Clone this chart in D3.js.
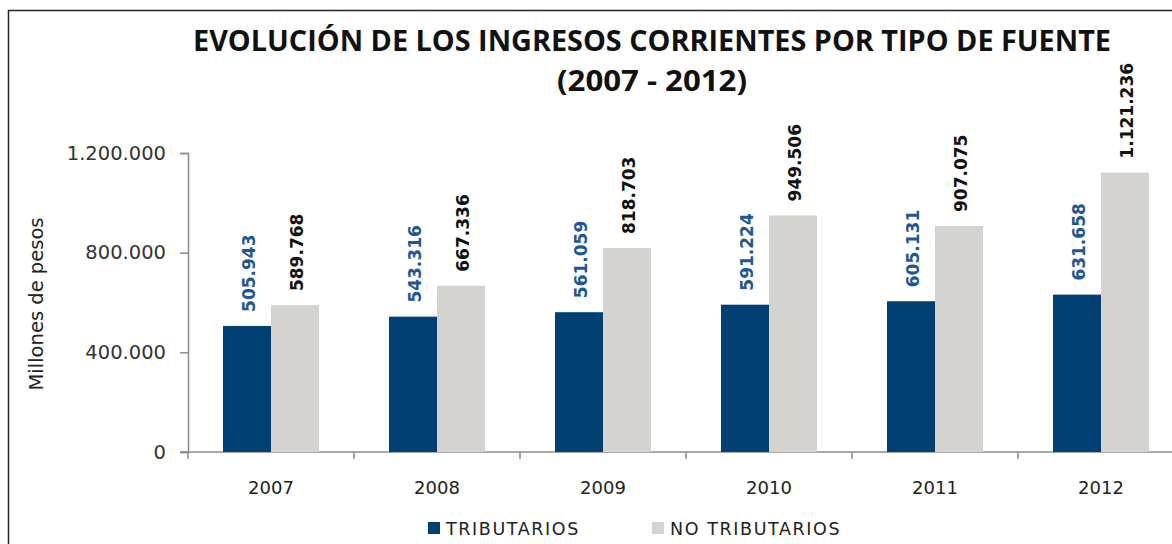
<!DOCTYPE html>
<html>
<head>
<meta charset="utf-8">
<script src="https://cdn.jsdelivr.net/npm/d3@7"></script>
<style>
  body { margin: 0; background: #fff; }
  svg { display: block; }
</style>
</head>
<body>
<div id="viz"></div>
<script>
// data
var years = ["2007", "2008", "2009", "2010", "2011", "2012"];
var tributarios = [505943, 543316, 561059, 591224, 605131, 631658];
var noTributarios = [589768, 667336, 818703, 949506, 907075, 1121236];
var yTicks = [0, 400000, 800000, 1200000];
var seriesNames = ["TRIBUTARIOS", "NO TRIBUTARIOS"];

var width = 1172, height = 544;
var blue = "#023f73", gray = "#d4d3cf";

var loc = d3.formatLocale({ decimal: ",", thousands: ".", grouping: [3], currency: ["$", ""] });
var fmt = loc.format(",d");

var svg = d3.select("#viz").append("svg")
  .attr("width", width)
  .attr("height", height);

// frame
svg.append("rect")
  .attr("x", 8.5).attr("y", 10.5)
  .attr("width", 1200).attr("height", 600)
  .attr("fill", "none").attr("stroke", "#222").attr("stroke-width", 1.5);

// title
svg.append("text")
  .attr("x", 652).attr("y", 51)
  .attr("text-anchor", "middle")
  .attr("textLength", 918).attr("lengthAdjust", "spacingAndGlyphs")
  .style("font-family", "'Open Sans', sans-serif")
  .style("font-weight", "bold").style("font-size", "29px")
  .attr("fill", "#111")
  .text("EVOLUCIÓN DE LOS INGRESOS CORRIENTES POR TIPO DE FUENTE");
svg.append("text")
  .attr("x", 652).attr("y", 91)
  .attr("text-anchor", "middle")
  .attr("textLength", 190).attr("lengthAdjust", "spacingAndGlyphs")
  .style("font-family", "'Open Sans', sans-serif")
  .style("font-weight", "bold").style("font-size", "29px")
  .attr("fill", "#111")
  .text("(2007 - 2012)");

// scales
var y = d3.scaleLinear().domain([0, 1200000]).range([452, 153]);
var x = d3.scaleBand().domain(years).range([188, 188 + 166 * 6]).paddingInner(0).paddingOuter(0);
var xs = d3.scaleBand().domain([0, 1]).range([35, 131]);

// axes
var yAxis = svg.append("g")
  .attr("transform", "translate(188,0)")
  .call(d3.axisLeft(y).tickValues(yTicks).tickSize(8).tickPadding(14).tickFormat(fmt));
yAxis.select(".domain").attr("stroke", "#8c8c8c").attr("stroke-width", 1.5);
yAxis.selectAll(".tick line").attr("stroke", "#8c8c8c").attr("stroke-width", 1.5);
yAxis.selectAll(".tick text")
  .style("font-family", "'DejaVu Sans', sans-serif")
  .style("font-size", "19.5px").attr("fill", "#333");

var xAxis = svg.append("g")
  .attr("transform", "translate(0,452)");
xAxis.append("line")
  .attr("x1", 180).attr("x2", width)
  .attr("stroke", "#8c8c8c").attr("stroke-width", 1.5);
xAxis.selectAll("line.tk")
  .data(years)
  .enter().append("line")
  .attr("class", "tk")
  .attr("x1", function(d) { return x(d); })
  .attr("x2", function(d) { return x(d); })
  .attr("y1", 0).attr("y2", 7)
  .attr("stroke", "#8c8c8c").attr("stroke-width", 1.5);
xAxis.selectAll("text")
  .data(years)
  .enter().append("text")
  .attr("x", function(d) { return x(d) + 83; })
  .attr("y", 42)
  .attr("text-anchor", "middle")
  .style("font-family", "'DejaVu Sans', sans-serif")
  .style("font-size", "18px").attr("fill", "#222")
  .text(function(d) { return d; });

// y title
svg.append("text")
  .attr("transform", "translate(43,304) rotate(-90)")
  .attr("text-anchor", "middle")
  .style("font-family", "'DejaVu Sans', sans-serif")
  .style("font-size", "19.5px").attr("fill", "#222")
  .text("Millones de pesos");

// bars
var series = [
  { name: seriesNames[0], values: tributarios, color: blue, label: "#1d5796" },
  { name: seriesNames[1], values: noTributarios, color: gray, label: "#111" }
];

series.forEach(function(s, si) {
  var g = svg.append("g");
  g.selectAll("rect")
    .data(s.values)
    .enter().append("rect")
    .attr("x", function(d, i) { return x(years[i]) + xs(si); })
    .attr("y", function(d) { return y(d); })
    .attr("width", xs.bandwidth())
    .attr("height", function(d) { return y(0) - y(d); })
    .attr("fill", s.color);
  g.selectAll("text")
    .data(s.values)
    .enter().append("text")
    .attr("transform", function(d, i) {
      var cx = x(years[i]) + xs(si) + xs.bandwidth() / 2 + 2;
      return "translate(" + cx + "," + (y(d) - 14) + ") rotate(-90)";
    })
    .attr("dominant-baseline", "central")
    .style("font-family", "'DejaVu Sans', sans-serif")
    .style("font-weight", "bold").style("font-size", "17px")
    .attr("fill", s.label)
    .text(function(d) { return fmt(d); });
});

// legend
var legend = svg.append("g");
var legendX = [428, 652];
series.forEach(function(s, si) {
  legend.append("rect")
    .attr("x", legendX[si]).attr("y", 522)
    .attr("width", 12).attr("height", 12)
    .attr("fill", s.color);
  legend.append("text")
    .attr("x", legendX[si] + 18).attr("y", 535)
    .style("font-family", "'DejaVu Sans', sans-serif")
    .style("font-size", "17.5px").style("letter-spacing", "1.6px")
    .attr("fill", "#222")
    .text(s.name);
});
</script>
</body>
</html>
